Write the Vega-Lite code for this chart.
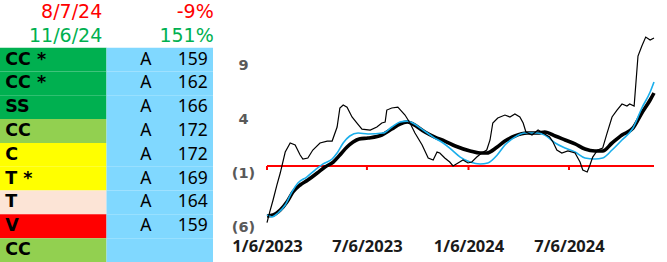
{
  "$schema": "https://vega.github.io/schema/vega-lite/v6.json",
  "padding": 0,
  "spacing": 54,
  "bounds": "flush",
  "background": "white",
  "config": {"view": {"stroke": null}},
  "datasets": {
    "table": [
      {"row": 0, "tier": "from", "label": "8/7/24", "num": "-9%"},
      {"row": 1, "tier": "to", "label": "11/6/24", "num": "151%"},
      {"row": 2, "tier": "t1", "label": "CC *", "grade": "A", "num": "159"},
      {"row": 3, "tier": "t1", "label": "CC *", "grade": "A", "num": "162"},
      {"row": 4, "tier": "t1", "label": "SS", "grade": "A", "num": "166"},
      {"row": 5, "tier": "t2", "label": "CC", "grade": "A", "num": "172"},
      {"row": 6, "tier": "t3", "label": "C", "grade": "A", "num": "172"},
      {"row": 7, "tier": "t3", "label": "T *", "grade": "A", "num": "169"},
      {"row": 8, "tier": "t4", "label": "T", "grade": "A", "num": "164"},
      {"row": 9, "tier": "t5", "label": "V", "grade": "A", "num": "159"},
      {"row": 10, "tier": "t2", "label": "CC", "grade": "", "num": ""}
    ],
    "ticks": [
      {"d": "2023-01-06"}, {"d": "2023-07-06"}, {"d": "2024-01-06"}, {"d": "2024-07-06"}
    ],
    "lines": [
      {"s": "raw", "d": "2023-01-06", "v": -5.6},
      {"s": "raw", "d": "2023-01-11", "v": -4.6},
      {"s": "raw", "d": "2023-01-17", "v": -3.5},
      {"s": "raw", "d": "2023-01-24", "v": -2.1},
      {"s": "raw", "d": "2023-01-30", "v": -1.0},
      {"s": "raw", "d": "2023-02-08", "v": 0.94},
      {"s": "raw", "d": "2023-02-17", "v": 1.78},
      {"s": "raw", "d": "2023-02-26", "v": 1.6},
      {"s": "raw", "d": "2023-03-07", "v": 0.67},
      {"s": "raw", "d": "2023-03-12", "v": 0.3},
      {"s": "raw", "d": "2023-03-21", "v": 0.39},
      {"s": "raw", "d": "2023-03-30", "v": 1.13},
      {"s": "raw", "d": "2023-04-12", "v": 1.78},
      {"s": "raw", "d": "2023-04-25", "v": 1.96},
      {"s": "raw", "d": "2023-05-04", "v": 1.96},
      {"s": "raw", "d": "2023-05-13", "v": 3.26},
      {"s": "raw", "d": "2023-05-18", "v": 5.02},
      {"s": "raw", "d": "2023-05-24", "v": 5.3},
      {"s": "raw", "d": "2023-05-31", "v": 5.1},
      {"s": "raw", "d": "2023-06-09", "v": 4.19},
      {"s": "raw", "d": "2023-06-18", "v": 3.63},
      {"s": "raw", "d": "2023-06-27", "v": 3.07},
      {"s": "raw", "d": "2023-07-12", "v": 2.98},
      {"s": "raw", "d": "2023-07-24", "v": 3.26},
      {"s": "raw", "d": "2023-08-02", "v": 3.63},
      {"s": "raw", "d": "2023-08-08", "v": 3.72},
      {"s": "raw", "d": "2023-08-11", "v": 4.83},
      {"s": "raw", "d": "2023-08-20", "v": 5.02},
      {"s": "raw", "d": "2023-08-31", "v": 5.1},
      {"s": "raw", "d": "2023-09-13", "v": 4.37},
      {"s": "raw", "d": "2023-09-22", "v": 3.63},
      {"s": "raw", "d": "2023-10-01", "v": 2.7},
      {"s": "raw", "d": "2023-10-14", "v": 1.59},
      {"s": "raw", "d": "2023-10-25", "v": 0.39},
      {"s": "raw", "d": "2023-11-03", "v": 0.2},
      {"s": "raw", "d": "2023-11-10", "v": 0.94},
      {"s": "raw", "d": "2023-11-15", "v": 0.85},
      {"s": "raw", "d": "2023-11-24", "v": 0.39},
      {"s": "raw", "d": "2023-12-03", "v": 0.02},
      {"s": "raw", "d": "2023-12-09", "v": -0.35},
      {"s": "raw", "d": "2023-12-18", "v": -0.07},
      {"s": "raw", "d": "2023-12-27", "v": 0.2},
      {"s": "raw", "d": "2024-01-05", "v": -0.07},
      {"s": "raw", "d": "2024-01-12", "v": 0.02},
      {"s": "raw", "d": "2024-01-21", "v": 0.48},
      {"s": "raw", "d": "2024-01-30", "v": 0.85},
      {"s": "raw", "d": "2024-02-08", "v": 1.13},
      {"s": "raw", "d": "2024-02-14", "v": 2.06},
      {"s": "raw", "d": "2024-02-19", "v": 3.63},
      {"s": "raw", "d": "2024-02-28", "v": 4.09},
      {"s": "raw", "d": "2024-03-12", "v": 4.37},
      {"s": "raw", "d": "2024-03-21", "v": 4.19},
      {"s": "raw", "d": "2024-03-30", "v": 4.46},
      {"s": "raw", "d": "2024-04-08", "v": 4.19},
      {"s": "raw", "d": "2024-04-14", "v": 3.63},
      {"s": "raw", "d": "2024-04-19", "v": 2.8},
      {"s": "raw", "d": "2024-04-30", "v": 2.52},
      {"s": "raw", "d": "2024-05-11", "v": 2.98},
      {"s": "raw", "d": "2024-05-20", "v": 2.7},
      {"s": "raw", "d": "2024-06-01", "v": 2.33},
      {"s": "raw", "d": "2024-06-07", "v": 1.87},
      {"s": "raw", "d": "2024-06-14", "v": 1.13},
      {"s": "raw", "d": "2024-06-23", "v": 0.85},
      {"s": "raw", "d": "2024-07-04", "v": 1.04},
      {"s": "raw", "d": "2024-07-17", "v": 0.85},
      {"s": "raw", "d": "2024-07-26", "v": 0.02},
      {"s": "raw", "d": "2024-07-31", "v": -0.72},
      {"s": "raw", "d": "2024-08-08", "v": -0.91},
      {"s": "raw", "d": "2024-08-13", "v": -0.26},
      {"s": "raw", "d": "2024-08-18", "v": 0.48},
      {"s": "raw", "d": "2024-08-27", "v": 1.13},
      {"s": "raw", "d": "2024-09-05", "v": 1.31},
      {"s": "raw", "d": "2024-09-13", "v": 2.7},
      {"s": "raw", "d": "2024-09-22", "v": 4.19},
      {"s": "raw", "d": "2024-10-01", "v": 4.83},
      {"s": "raw", "d": "2024-10-10", "v": 5.39},
      {"s": "raw", "d": "2024-10-19", "v": 5.2},
      {"s": "raw", "d": "2024-10-24", "v": 5.39},
      {"s": "raw", "d": "2024-11-01", "v": 5.2},
      {"s": "raw", "d": "2024-11-08", "v": 9.83},
      {"s": "raw", "d": "2024-11-15", "v": 10.76},
      {"s": "raw", "d": "2024-11-22", "v": 11.59},
      {"s": "raw", "d": "2024-11-30", "v": 11.31},
      {"s": "raw", "d": "2024-12-07", "v": 11.5},

      {"s": "fast", "d": "2023-01-06", "v": -4.89},
      {"s": "fast", "d": "2023-01-15", "v": -5.07},
      {"s": "fast", "d": "2023-01-26", "v": -4.7},
      {"s": "fast", "d": "2023-02-08", "v": -3.96},
      {"s": "fast", "d": "2023-02-20", "v": -2.76},
      {"s": "fast", "d": "2023-03-03", "v": -1.93},
      {"s": "fast", "d": "2023-03-19", "v": -1.37},
      {"s": "fast", "d": "2023-04-03", "v": -0.72},
      {"s": "fast", "d": "2023-04-17", "v": -0.17},
      {"s": "fast", "d": "2023-05-04", "v": 0.3},
      {"s": "fast", "d": "2023-05-13", "v": 0.85},
      {"s": "fast", "d": "2023-05-24", "v": 1.78},
      {"s": "fast", "d": "2023-06-05", "v": 2.43},
      {"s": "fast", "d": "2023-06-20", "v": 2.7},
      {"s": "fast", "d": "2023-07-08", "v": 2.61},
      {"s": "fast", "d": "2023-08-04", "v": 2.7},
      {"s": "fast", "d": "2023-08-20", "v": 3.26},
      {"s": "fast", "d": "2023-09-04", "v": 3.72},
      {"s": "fast", "d": "2023-09-17", "v": 3.81},
      {"s": "fast", "d": "2023-09-27", "v": 3.63},
      {"s": "fast", "d": "2023-10-16", "v": 2.98},
      {"s": "fast", "d": "2023-11-03", "v": 2.33},
      {"s": "fast", "d": "2023-11-21", "v": 1.78},
      {"s": "fast", "d": "2023-12-03", "v": 1.31},
      {"s": "fast", "d": "2023-12-22", "v": 0.48},
      {"s": "fast", "d": "2024-01-09", "v": 0.02},
      {"s": "fast", "d": "2024-01-27", "v": -0.17},
      {"s": "fast", "d": "2024-02-10", "v": -0.07},
      {"s": "fast", "d": "2024-02-27", "v": 0.67},
      {"s": "fast", "d": "2024-03-12", "v": 1.59},
      {"s": "fast", "d": "2024-03-30", "v": 2.33},
      {"s": "fast", "d": "2024-04-17", "v": 2.7},
      {"s": "fast", "d": "2024-05-09", "v": 2.7},
      {"s": "fast", "d": "2024-05-23", "v": 2.52},
      {"s": "fast", "d": "2024-06-11", "v": 1.78},
      {"s": "fast", "d": "2024-06-29", "v": 1.31},
      {"s": "fast", "d": "2024-07-17", "v": 0.94},
      {"s": "fast", "d": "2024-08-04", "v": 0.39},
      {"s": "fast", "d": "2024-08-22", "v": 0.3},
      {"s": "fast", "d": "2024-09-05", "v": 0.39},
      {"s": "fast", "d": "2024-09-22", "v": 1.13},
      {"s": "fast", "d": "2024-10-10", "v": 2.06},
      {"s": "fast", "d": "2024-10-30", "v": 3.17},
      {"s": "fast", "d": "2024-11-15", "v": 5.02},
      {"s": "fast", "d": "2024-11-30", "v": 6.5},
      {"s": "fast", "d": "2024-12-07", "v": 7.43},

      {"s": "slow", "d": "2023-01-06", "v": -4.98},
      {"s": "slow", "d": "2023-01-17", "v": -4.89},
      {"s": "slow", "d": "2023-01-30", "v": -4.43},
      {"s": "slow", "d": "2023-02-11", "v": -3.69},
      {"s": "slow", "d": "2023-02-22", "v": -2.76},
      {"s": "slow", "d": "2023-03-07", "v": -2.11},
      {"s": "slow", "d": "2023-03-21", "v": -1.65},
      {"s": "slow", "d": "2023-04-07", "v": -1.0},
      {"s": "slow", "d": "2023-04-21", "v": -0.44},
      {"s": "slow", "d": "2023-05-06", "v": 0.02},
      {"s": "slow", "d": "2023-05-18", "v": 0.67},
      {"s": "slow", "d": "2023-05-31", "v": 1.41},
      {"s": "slow", "d": "2023-06-11", "v": 1.87},
      {"s": "slow", "d": "2023-06-22", "v": 2.15},
      {"s": "slow", "d": "2023-07-08", "v": 2.24},
      {"s": "slow", "d": "2023-08-02", "v": 2.52},
      {"s": "slow", "d": "2023-08-20", "v": 3.07},
      {"s": "slow", "d": "2023-09-04", "v": 3.54},
      {"s": "slow", "d": "2023-09-17", "v": 3.72},
      {"s": "slow", "d": "2023-09-27", "v": 3.54},
      {"s": "slow", "d": "2023-10-19", "v": 2.8},
      {"s": "slow", "d": "2023-11-06", "v": 2.33},
      {"s": "slow", "d": "2023-11-24", "v": 1.96},
      {"s": "slow", "d": "2023-12-13", "v": 1.5},
      {"s": "slow", "d": "2024-01-09", "v": 1.04},
      {"s": "slow", "d": "2024-01-27", "v": 0.85},
      {"s": "slow", "d": "2024-02-08", "v": 0.85},
      {"s": "slow", "d": "2024-02-27", "v": 1.41},
      {"s": "slow", "d": "2024-03-12", "v": 1.96},
      {"s": "slow", "d": "2024-03-30", "v": 2.43},
      {"s": "slow", "d": "2024-04-21", "v": 2.7},
      {"s": "slow", "d": "2024-05-11", "v": 2.7},
      {"s": "slow", "d": "2024-05-23", "v": 2.8},
      {"s": "slow", "d": "2024-06-11", "v": 2.43},
      {"s": "slow", "d": "2024-06-29", "v": 2.06},
      {"s": "slow", "d": "2024-07-17", "v": 1.69},
      {"s": "slow", "d": "2024-08-04", "v": 1.22},
      {"s": "slow", "d": "2024-08-22", "v": 1.04},
      {"s": "slow", "d": "2024-09-05", "v": 1.04},
      {"s": "slow", "d": "2024-09-22", "v": 1.78},
      {"s": "slow", "d": "2024-10-10", "v": 2.52},
      {"s": "slow", "d": "2024-10-30", "v": 3.17},
      {"s": "slow", "d": "2024-11-15", "v": 4.56},
      {"s": "slow", "d": "2024-11-30", "v": 5.76},
      {"s": "slow", "d": "2024-12-07", "v": 6.41}
    ]
  },
  "hconcat": [
    {
      "width": 213,
      "height": 262,
      "data": {"name": "table"},
      "encoding": {
        "y": {"field": "row", "type": "ordinal", "axis": null, "scale": {"domain": [0,1,2,3,4,5,6,7,8,9,10], "paddingInner": 0, "paddingOuter": 0}}
      },
      "layer": [
        {
          "transform": [{"filter": "datum.row >= 2"}],
          "mark": {"type": "rect"},
          "encoding": {
            "x": {"datum": "L", "type": "nominal", "axis": null, "scale": {"domain": ["L","R"], "paddingInner": 0, "paddingOuter": 0}},
            "color": {"field": "tier", "type": "nominal", "legend": null, "scale": {"domain": ["t1","t2","t3","t4","t5","from","to"], "range": ["#00B050","#92D050","#FFFF00","#FCE4D6","#FF0000","#FF0000","#00B050"]}}
          }
        },
        {
          "transform": [{"filter": "datum.row >= 2"}],
          "mark": {"type": "rect", "color": "#80D8FF"},
          "encoding": {
            "x": {"datum": "R", "type": "nominal", "axis": null, "scale": {"domain": ["L","R"], "paddingInner": 0, "paddingOuter": 0}}
          }
        },
        {
          "transform": [{"filter": "datum.row < 2"}],
          "mark": {"type": "text", "align": "right", "baseline": "middle", "dx": 49, "font": "DejaVu Sans", "fontSize": 19},
          "encoding": {
            "x": {"datum": "L", "type": "nominal", "axis": null, "scale": {"domain": ["L","R"], "paddingInner": 0, "paddingOuter": 0}},
            "text": {"field": "label"},
            "color": {"field": "tier", "type": "nominal", "legend": null, "scale": {"domain": ["t1","t2","t3","t4","t5","from","to"], "range": ["#00B050","#92D050","#FFFF00","#FCE4D6","#FF0000","#FF0000","#00B050"]}}
          }
        },
        {
          "transform": [{"filter": "datum.row < 2"}],
          "mark": {"type": "text", "align": "right", "baseline": "middle", "dx": 54, "font": "DejaVu Sans", "fontSize": 19},
          "encoding": {
            "x": {"datum": "R", "type": "nominal", "axis": null, "scale": {"domain": ["L","R"], "paddingInner": 0, "paddingOuter": 0}},
            "text": {"field": "num"},
            "color": {"field": "tier", "type": "nominal", "legend": null, "scale": {"domain": ["t1","t2","t3","t4","t5","from","to"], "range": ["#00B050","#92D050","#FFFF00","#FCE4D6","#FF0000","#FF0000","#00B050"]}}
          }
        },
        {
          "transform": [{"filter": "datum.row >= 2"}],
          "mark": {"type": "text", "align": "left", "baseline": "middle", "dx": -48, "font": "DejaVu Sans", "fontWeight": "bold", "fontSize": 17.5, "color": "#000000"},
          "encoding": {
            "x": {"datum": "L", "type": "nominal", "axis": null, "scale": {"domain": ["L","R"], "paddingInner": 0, "paddingOuter": 0}},
            "text": {"field": "label"}
          }
        },
        {
          "transform": [{"filter": "datum.row >= 2"}],
          "mark": {"type": "text", "align": "center", "baseline": "middle", "dx": -14, "font": "Noto Sans", "fontSize": 17.5, "color": "#000000"},
          "encoding": {
            "x": {"datum": "R", "type": "nominal", "axis": null, "scale": {"domain": ["L","R"], "paddingInner": 0, "paddingOuter": 0}},
            "text": {"field": "grade"}
          }
        },
        {
          "transform": [{"filter": "datum.row >= 2"}],
          "mark": {"type": "text", "align": "right", "baseline": "middle", "dx": 48, "font": "Noto Sans", "fontSize": 17.5, "color": "#000000"},
          "encoding": {
            "x": {"datum": "R", "type": "nominal", "axis": null, "scale": {"domain": ["L","R"], "paddingInner": 0, "paddingOuter": 0}},
            "text": {"field": "num"}
          }
        }
      ]
    },
    {
      "width": 387,
      "height": 232,
      "layer": [
        {
          "data": {"values": [{}]},
          "mark": {"type": "rule", "color": "#FF0000", "strokeWidth": 2},
          "encoding": {
            "y": {"datum": -0.35, "type": "quantitative", "title": null,
                  "scale": {"domain": [-6.46, 15.02], "nice": false, "zero": false},
                  "axis": {"values": [-6, -1, 4, 9], "labelExpr": "datum.value < 0 ? '(' + abs(datum.value) + ')' : '' + datum.value", "domain": false, "ticks": false, "tickSize": 0, "grid": false, "labelPadding": 24, "labelAlign": "center", "labelBaseline": "middle", "labelFont": "DejaVu Sans", "labelFontWeight": "bold", "labelFontSize": 14.5, "labelColor": "#595959", "labelFlush": false, "labelOverlap": false, "title": null}}
          }
        },
        {
          "data": {"name": "ticks"},
          "mark": {"type": "rule", "color": "#FF0000", "strokeWidth": 2},
          "encoding": {
            "x": {"field": "d", "type": "temporal", "title": null,
                  "scale": {"type": "utc", "domain": [{"year": 2023, "month": 1, "date": 6, "utc": true}, {"year": 2024, "month": 12, "date": 7, "utc": true}]},
                  "axis": {"values": [{"year": 2023, "month": 1, "date": 6, "utc": true}, {"year": 2023, "month": 7, "date": 6, "utc": true}, {"year": 2024, "month": 1, "date": 6, "utc": true}, {"year": 2024, "month": 7, "date": 6, "utc": true}], "labelExpr": "utcFormat(datum.value, '%-m/%-d/%Y')", "domain": false, "ticks": false, "tickSize": 0, "grid": false, "labelPadding": 6, "labelBaseline": "top", "labelFont": "Noto Sans", "labelFontWeight": "bold", "labelFontSize": 16.5, "labelColor": "#1a1a1a", "labelFlush": false, "labelOverlap": false, "title": null}},
            "y": {"datum": -0.35, "type": "quantitative", "title": null},
            "y2": {"datum": -0.72}
          }
        },
        {
          "data": {"name": "lines"},
          "transform": [{"filter": "datum.s == 'slow'"}],
          "mark": {"type": "line", "color": "#000000", "strokeWidth": 3.6, "interpolate": "monotone"},
          "encoding": {
            "x": {"field": "d", "type": "temporal", "title": null},
            "y": {"field": "v", "type": "quantitative", "title": null}
          }
        },
        {
          "data": {"name": "lines"},
          "transform": [{"filter": "datum.s == 'fast'"}],
          "mark": {"type": "line", "color": "#1AAEEB", "strokeWidth": 1.6, "interpolate": "monotone"},
          "encoding": {
            "x": {"field": "d", "type": "temporal", "title": null},
            "y": {"field": "v", "type": "quantitative", "title": null}
          }
        },
        {
          "data": {"name": "lines"},
          "transform": [{"filter": "datum.s == 'raw'"}],
          "mark": {"type": "line", "color": "#000000", "strokeWidth": 1.2},
          "encoding": {
            "x": {"field": "d", "type": "temporal", "title": null},
            "y": {"field": "v", "type": "quantitative", "title": null}
          }
        }
      ]
    }
  ]
}
